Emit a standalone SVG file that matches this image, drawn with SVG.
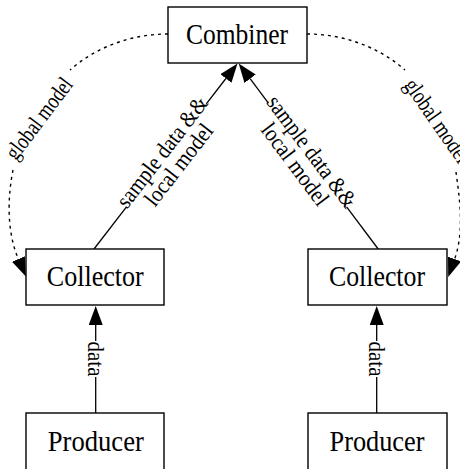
<svg xmlns="http://www.w3.org/2000/svg" width="460" height="469" viewBox="0 0 460 469">
<style>
.box{fill:#fff;stroke:#000;stroke-width:1.4}
.nt{font-family:"Liberation Serif","Times New Roman",serif;font-size:30px;text-anchor:middle;fill:#000}
.el{font-family:"Liberation Serif","Times New Roman",serif;font-size:23px;text-anchor:middle;fill:#000}
.e{fill:none;stroke:#000;stroke-width:1.3}
.d{fill:none;stroke:#000;stroke-width:1.4;stroke-dasharray:3,4}
</style>
<defs>
<marker id="arr" markerUnits="userSpaceOnUse" viewBox="0 0 19 14" refX="0" refY="7" markerWidth="19" markerHeight="14" orient="auto">
<path d="M0,0 L19,7 L0,14 Z" fill="#000"/>
</marker>
</defs>
<g id="edges">
<path class="e" d="M95.7,413 L95.7,377"/>
<path class="e" d="M95.7,341 L95.7,325" marker-end="url(#arr)"/>
<text class="el" transform="translate(87.5,359) rotate(90)" textLength="35" lengthAdjust="spacingAndGlyphs">data</text>
<path class="e" d="M376.7,413 L376.7,377"/>
<path class="e" d="M376.7,341 L376.7,325" marker-end="url(#arr)"/>
<text class="el" transform="translate(368.5,359) rotate(90)" textLength="35" lengthAdjust="spacingAndGlyphs">data</text>
<path class="e" d="M94,249 L126.7,206.7"/>
<path class="e" d="M206.3,103.9 L225.9,78.5" marker-end="url(#arr)"/>
<g transform="translate(166.5,155.3) rotate(-52.3)">
<text class="el" x="0" y="2" textLength="134" lengthAdjust="spacingAndGlyphs">sample data &amp;&amp;</text>
<text class="el" x="0" y="23" textLength="97" lengthAdjust="spacingAndGlyphs">local model</text>
</g>
<path class="e" d="M378.2,249 L346.6,206.9"/>
<path class="e" d="M268.4,103.1 L250.1,78.7" marker-end="url(#arr)"/>
<g transform="translate(307.5,155) rotate(53.1)">
<text class="el" x="0" y="2" textLength="134" lengthAdjust="spacingAndGlyphs">sample data &amp;&amp;</text>
<text class="el" x="0" y="23" textLength="97" lengthAdjust="spacingAndGlyphs">local model</text>
</g>
<path class="d" d="M168,34 C130,34 95,48 70,70"/>
<path class="d" d="M13,170 C8,195 6,230 18.4,259" marker-end="url(#arr)"/>
<text class="el" transform="translate(45,123) rotate(-53)" textLength="96" lengthAdjust="spacingAndGlyphs">global model</text>
<path class="d" d="M307,34 C345,34 380,48 405,70"/>
<path class="d" d="M456,172 C459,195 465,230 454.6,259" marker-end="url(#arr)"/>
<text class="el" transform="translate(431,125) rotate(55)" textLength="97" lengthAdjust="spacingAndGlyphs">global model</text>
</g>
<g id="combiner">
<rect class="box" x="168" y="7" width="139" height="56"/>
<text class="nt" x="237" y="44" textLength="102" lengthAdjust="spacingAndGlyphs">Combiner</text>
</g>
<g id="collector1">
<rect class="box" x="26" y="249" width="138" height="56"/>
<text class="nt" x="95.3" y="286" textLength="97" lengthAdjust="spacingAndGlyphs">Collector</text>
</g>
<g id="collector2">
<rect class="box" x="308" y="249" width="139" height="56"/>
<text class="nt" x="377" y="286" textLength="96" lengthAdjust="spacingAndGlyphs">Collector</text>
</g>
<g id="producer1">
<rect class="box" x="26" y="413" width="138" height="58"/>
<text class="nt" x="95.8" y="451" textLength="96" lengthAdjust="spacingAndGlyphs">Producer</text>
</g>
<g id="producer2">
<rect class="box" x="308" y="413" width="139" height="58"/>
<text class="nt" x="377" y="451" textLength="95" lengthAdjust="spacingAndGlyphs">Producer</text>
</g>
</svg>
